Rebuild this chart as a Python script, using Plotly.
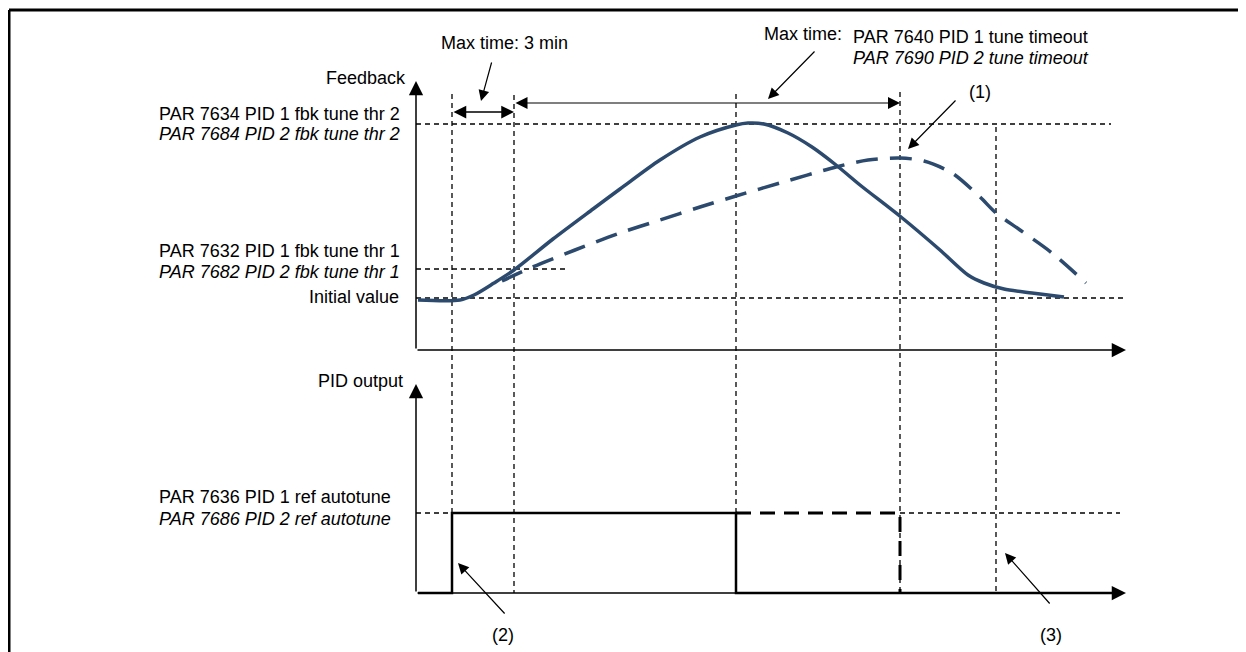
import plotly.graph_objects as go

W, H = 1246, 652
PAGE_OFFSET = 8  # browser body margin
NAVY = "#2c4a6e"
FONT = "Liberation Sans, Arial, sans-serif"
FS = 18

# ---------------- data (diagram coordinates, px-like units) ----------------
# time markers (x) and levels (y)
t_marks = [452, 514, 736, 900, 996]
t_marks_top = [94, 95, 94, 92, 127]
axis_left = 416
axis_right = 1126
fb_axis_bottom, fb_axis_top = 350, 81
out_axis_bottom, out_axis_top = 593, 384

lvl_thr2 = 124
lvl_thr1 = 269
lvl_init = 298
lvl_ref = 513

# feedback PID 1 (solid) curve
fb1_x = [418, 460, 474, 494, 514, 553, 593, 620, 660, 700, 736, 748, 764, 788, 812,
         836, 860, 901, 940, 968, 984, 1004, 1032, 1064]
fb1_y = [300, 300, 295, 283, 270, 239, 209, 189, 160, 137, 125, 123, 124, 133, 147,
         165, 185, 217, 250, 275, 283, 289, 293, 297]
# feedback PID 2 (dashed) curve
fb2_x = [502, 530, 575, 620, 660, 700, 736, 780, 836, 868, 900, 924, 952, 980, 996,
         1020, 1052, 1086]
fb2_y = [281, 268, 250, 233, 220, 207, 196, 183, 167, 160, 158, 161, 173, 197, 213,
         230, 253, 283]

# PID output steps
out1_x = [418, 452, 452, 736, 736, 1118]
out1_y = [593, 593, 513, 513, 593, 593]
out2_x = [736, 900, 900]
out2_y = [513, 513, 593]

fig = go.Figure()

# curves
fig.add_trace(go.Scatter(x=fb1_x, y=fb1_y, mode="lines",
                         line=dict(color=NAVY, width=3.5, shape="spline", smoothing=0.8),
                         hoverinfo="skip"))
fig.add_trace(go.Scatter(x=fb2_x, y=fb2_y, mode="lines",
                         line=dict(color=NAVY, width=3.5, shape="spline", smoothing=0.8,
                                   dash="22px,12px"),
                         hoverinfo="skip"))
fig.add_trace(go.Scatter(x=out1_x, y=out1_y, mode="lines",
                         line=dict(color="black", width=2.5), hoverinfo="skip"))
fig.add_trace(go.Scatter(x=out2_x, y=out2_y, mode="lines",
                         line=dict(color="black", width=3, dash="15px,9px"),
                         hoverinfo="skip"))

shapes = []
def seg(x0, y0, x1, y1, width=1.0, dash=None, color="black"):
    ln = dict(color=color, width=width)
    if dash:
        ln["dash"] = dash
    shapes.append(dict(type="line", xref="x", yref="y", x0=x0, y0=y0, x1=x1, y1=y1,
                       line=ln, layer="below"))

THIN_DASH = "5px,4px"
# border
seg(9, 10, W, 10, width=3)
seg(9, 10, 9, H, width=3)
# vertical dashed markers
for tx, ty in zip(t_marks, t_marks_top):
    seg(tx, ty, tx, out_axis_bottom, width=1.3, dash=THIN_DASH)
# horizontal dashed levels
seg(axis_left, lvl_thr2, 1111, lvl_thr2, width=1.3, dash=THIN_DASH)
seg(axis_left, lvl_thr1, 568, lvl_thr1, width=1.3, dash=THIN_DASH)
seg(axis_left, lvl_init, axis_right, lvl_init, width=1.3, dash=THIN_DASH)
seg(axis_left, lvl_ref, t_marks[0], lvl_ref, width=1.3, dash=THIN_DASH)
seg(t_marks[3], lvl_ref, 1120, lvl_ref, width=1.3, dash=THIN_DASH)

annotations = []
def arrow(x0, y0, x1, y1, width=1.2, head=2, size=1.8, both=False):
    annotations.append(dict(x=x1, y=y1, ax=x0, ay=y0, xref="x", yref="y",
                            axref="x", ayref="y", text="", showarrow=True,
                            arrowhead=head, arrowsize=size, arrowwidth=width,
                            arrowcolor="black", standoff=0, startstandoff=0,
                            startarrowhead=head, startarrowsize=size,
                            arrowside="end+start" if both else "end"))

def label(x, y, txt, anchor="left", italic=False):
    annotations.append(dict(x=x, y=y, xref="x", yref="y", text=f"<i>{txt}</i>" if italic else txt,
                            showarrow=False, xanchor=anchor, yanchor="middle",
                            font=dict(family=FONT, size=FS, color="black")))

# axes with arrowheads
arrow(axis_left, fb_axis_bottom, axis_left, fb_axis_top, width=1.5, size=1.9)
arrow(axis_left, fb_axis_bottom, axis_right, fb_axis_bottom, width=1.5, size=1.9)
arrow(axis_left, out_axis_bottom, axis_left, out_axis_top, width=1.5, size=1.9)
arrow(axis_left, out_axis_bottom, axis_right, out_axis_bottom, width=1.5, size=1.9)

# time span arrows
arrow(452, 112, 514, 112, width=1.5, size=1.7, both=True)
arrow(514, 103, 900, 103, width=1.2, size=2.0, both=True)

# pointer arrows
arrow(492, 61, 481, 101)
arrow(816, 50, 768, 99)
arrow(957, 99, 908, 149)
arrow(506, 615, 458, 563)
arrow(1051, 605, 1005, 553)

# texts
label(504, 43, "Max time: 3 min", anchor="center")
label(408, 78, "Feedback", anchor="right")
label(157, 114, "PAR 7634 PID 1 fbk tune thr 2")
label(157, 134, "PAR 7684 PID 2 fbk tune thr 2", italic=True)
label(157, 251, "PAR 7632 PID 1 fbk tune thr 1")
label(157, 272, "PAR 7682 PID 2 fbk tune thr 1", italic=True)
label(401, 297, "Initial value", anchor="right")
label(405, 381, "PID output", anchor="right")
label(157, 497, "PAR 7636 PID 1 ref autotune")
label(157, 519, "PAR 7686 PID 2 ref autotune", italic=True)
label(762, 34, "Max time:")
label(851, 37, "PAR 7640 PID 1 tune timeout")
label(851, 58, "PAR 7690 PID 2 tune timeout", italic=True)
label(980, 92, "(1)", anchor="center")
label(503, 635, "(2)", anchor="center")
label(1051, 635, "(3)", anchor="center")

fig.update_layout(
    width=W - PAGE_OFFSET, height=H - PAGE_OFFSET,
    margin=dict(l=0, r=0, t=0, b=0),
    paper_bgcolor="white", plot_bgcolor="white",
    showlegend=False,
    xaxis=dict(range=[PAGE_OFFSET, W], visible=False, fixedrange=True),
    yaxis=dict(range=[H, PAGE_OFFSET], visible=False, fixedrange=True),
    shapes=shapes, annotations=annotations,
)
fig.write_html("out.html", config={"displayModeBar": False})
